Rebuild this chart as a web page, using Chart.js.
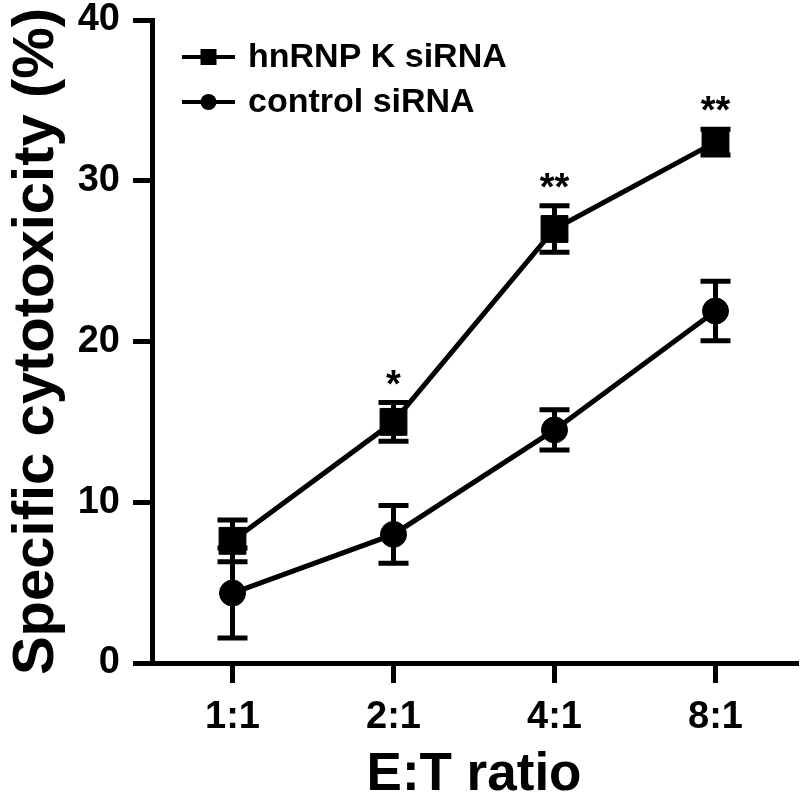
<!DOCTYPE html>
<html>
<head>
<meta charset="utf-8">
<title>Specific cytotoxicity</title>
<script src="https://cdn.jsdelivr.net/npm/chart.js@4/dist/chart.umd.min.js"></script>
<style>
  html, body { margin: 0; padding: 0; background: #fff; }
  #chart { display: block; }
</style>
</head>
<body>
<canvas id="chart" width="800" height="794"></canvas>
<script>
// Data
const categories = ['1:1', '2:1', '4:1', '8:1'];
const knockdownMean = [7.6, 15.0, 27.0, 32.4];
const knockdownErr = [1.3, 1.2, 1.45, 0.8];
const controlMean = [4.35, 8.0, 14.5, 21.9];
const controlErr = [2.8, 1.8, 1.25, 1.85];
const significance = ['', '*', '**', '**'];
const yTickValues = [0, 10, 20, 30, 40];

const FONT = "'Liberation Sans', Arial, sans-serif";

// Error bars (mean +/- err) with caps
const errorBars = {
    id: 'errorBars',
    afterDatasetsDraw(chart) {
        const { ctx, scales: { x, y } } = chart;
        const sets = [[knockdownMean, knockdownErr], [controlMean, controlErr]];
        ctx.save();
        ctx.strokeStyle = '#000';
        ctx.lineWidth = 5;
        ctx.lineCap = 'butt';
        sets.forEach(([mean, err]) => {
            mean.forEach((m, i) => {
                const px = x.getPixelForValue(i);
                const top = y.getPixelForValue(m + err[i]);
                const bot = y.getPixelForValue(m - err[i]);
                ctx.beginPath();
                ctx.moveTo(px, top);
                ctx.lineTo(px, bot);
                ctx.moveTo(px - 15, top);
                ctx.lineTo(px + 15, top);
                ctx.moveTo(px - 15, bot);
                ctx.lineTo(px + 15, bot);
                ctx.stroke();
            });
        });
        ctx.restore();
    }
};

// Significance stars above the knockdown series
const stars = {
    id: 'stars',
    afterDatasetsDraw(chart) {
        const { ctx, scales: { x, y } } = chart;
        ctx.save();
        ctx.fillStyle = '#000';
        ctx.font = `bold 38px ${FONT}`;
        ctx.textAlign = 'center';
        ctx.textBaseline = 'alphabetic';
        significance.forEach((s, i) => {
            if (!s) return;
            const px = x.getPixelForValue(i);
            const top = y.getPixelForValue(knockdownMean[i] + knockdownErr[i]);
            ctx.fillText(s, px, top - 6);
        });
        ctx.restore();
    }
};

// Legend: line through marker, then label
const lineLegend = {
    id: 'lineLegend',
    afterDraw(chart) {
        const { ctx, chartArea } = chart;
        const x0 = chartArea.left + 30;
        const x1 = chartArea.left + 83;
        const xm = (x0 + x1) / 2;
        ctx.save();
        chart.data.datasets.forEach((ds, i) => {
            const yy = chartArea.top + 37 + i * 45;
            ctx.strokeStyle = '#000';
            ctx.lineWidth = 4;
            ctx.beginPath();
            ctx.moveTo(x0, yy);
            ctx.lineTo(x1, yy);
            ctx.stroke();
            ctx.fillStyle = '#000';
            if (ds.pointStyle === 'rect') {
                ctx.fillRect(xm - 8, yy - 8, 16, 16);
            } else {
                ctx.beginPath();
                ctx.arc(xm, yy, 8, 0, Math.PI * 2);
                ctx.fill();
            }
            ctx.font = `bold 34px ${FONT}`;
            ctx.textAlign = 'left';
            ctx.textBaseline = 'middle';
            ctx.fillText(ds.label, chartArea.left + 96, yy + 1);
        });
        ctx.restore();
    }
};

new Chart(document.getElementById('chart').getContext('2d'), {
    type: 'line',
    data: {
        labels: categories,
        datasets: [
            {
                label: 'hnRNP K siRNA',
                data: knockdownMean,
                borderColor: '#000',
                borderWidth: 5,
                pointStyle: 'rect',
                pointRadius: 19,
                pointBorderWidth: 1,
                pointBackgroundColor: '#000',
                pointBorderColor: '#000',
                tension: 0
            },
            {
                label: 'control siRNA',
                data: controlMean,
                borderColor: '#000',
                borderWidth: 5,
                pointStyle: 'circle',
                pointRadius: 13,
                pointBorderWidth: 1,
                pointBackgroundColor: '#000',
                pointBorderColor: '#000',
                tension: 0
            }
        ]
    },
    options: {
        responsive: false,
        animation: false,
        devicePixelRatio: 1,
        layout: { autoPadding: false, padding: { top: 20, right: 4, left: 0, bottom: 0 } },
        plugins: {
            legend: { display: false },
            tooltip: { enabled: false }
        },
        scales: {
            x: {
                offset: true,
                grid: {
                    drawOnChartArea: false,
                    drawTicks: true,
                    tickLength: 20,
                    lineWidth: 5,
                    color: '#000',
                    offset: false
                },
                border: { display: true, width: 5, color: '#000' },
                ticks: {
                    color: '#000',
                    padding: 12,
                    maxRotation: 0,
                    font: { family: FONT, size: 38, weight: 'bold' }
                },
                title: {
                    display: true,
                    text: 'E:T ratio',
                    color: '#000',
                    padding: { top: 0, bottom: 0 },
                    font: { family: FONT, size: 53, weight: 'bold', lineHeight: 0.7 }
                },
                afterFit(scale) {
                    scale.height = 131;
                    scale.paddingLeft = 0;
                    scale.paddingRight = 0;
                }
            },
            y: {
                min: 0,
                max: 40,
                afterBuildTicks(scale) {
                    scale.ticks = yTickValues.map(v => ({ value: v }));
                },
                grid: {
                    drawOnChartArea: false,
                    drawTicks: true,
                    tickLength: 19,
                    lineWidth: 5,
                    color: '#000'
                },
                border: { display: true, width: 5, color: '#000' },
                ticks: {
                    color: '#000',
                    padding: 13,
                    font: { family: FONT, size: 38, weight: 'bold' }
                },
                title: {
                    display: true,
                    text: 'Specific cytotoxicity (%)',
                    color: '#000',
                    padding: { top: 2, bottom: 0 },
                    font: { family: FONT, size: 58, weight: 'bold', lineHeight: 1.2 }
                },
                afterFit(scale) {
                    scale.width = 152;
                    scale.paddingTop = 0;
                    scale.paddingBottom = 0;
                }
            }
        }
    },
    plugins: [errorBars, stars, lineLegend]
});
</script>
</body>
</html>
